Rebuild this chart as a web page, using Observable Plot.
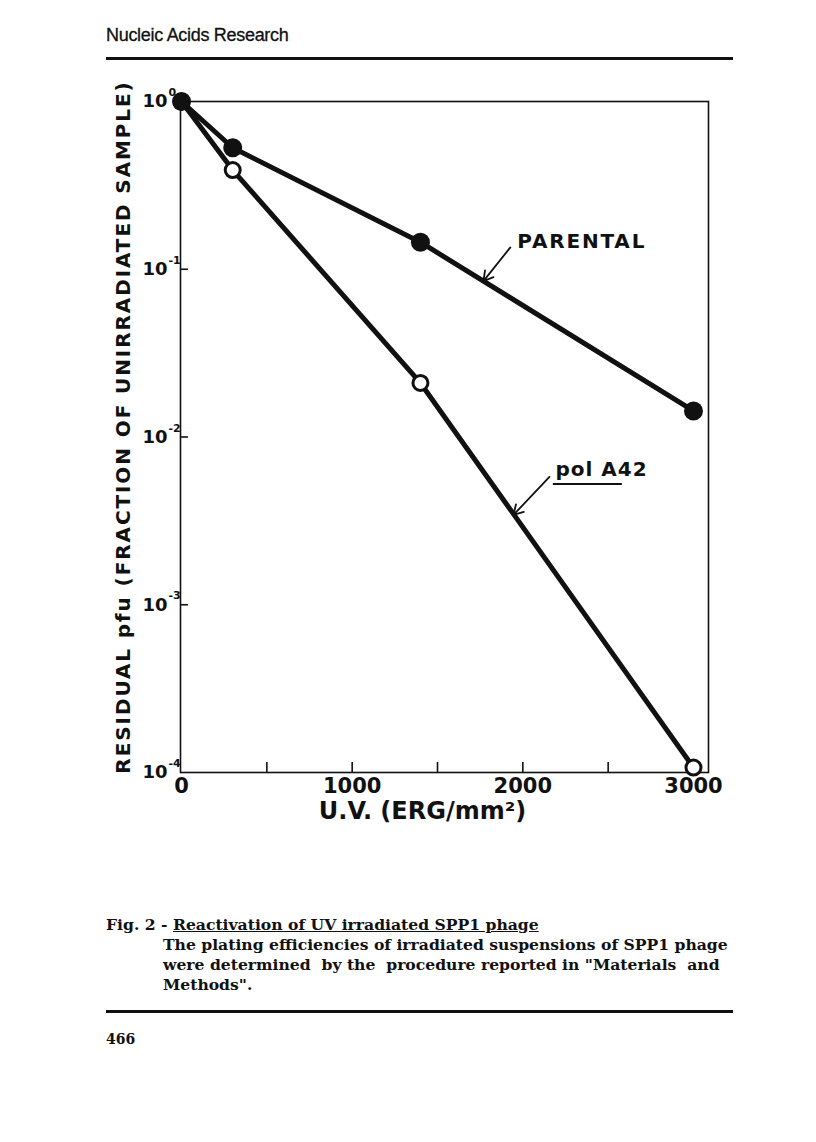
<!DOCTYPE html>
<html>
<head>
<meta charset="utf-8">
<script src="https://cdn.jsdelivr.net/npm/d3@7"></script>
<script src="https://cdn.jsdelivr.net/npm/@observablehq/plot@0.6"></script>
<style>
  html, body { margin: 0; padding: 0; background: #fff; }
  #page { position: relative; width: 816px; height: 1142px; background: #fff; overflow: hidden; }
  #chart { position: absolute; left: 0; top: 0; }
  .hdr { position: absolute; left: 106px; top: 25px; font-family: "Liberation Sans", Arial, sans-serif; font-size: 18px; font-weight: 500; color: #111; letter-spacing: -0.3px; -webkit-text-stroke: 0.3px #111; }
  .rule { position: absolute; left: 106px; width: 627px; height: 3px; background: #111; }
  .cap { position: absolute; font-family: "DejaVu Serif", serif; font-weight: bold; font-size: 15.6px; color: #111; white-space: nowrap; }
  .u { text-decoration: underline; }
</style>
</head>
<body>
<div id="page">
  <div class="hdr">Nucleic Acids Research</div>
  <div class="rule" style="top:57px"></div>
  <div id="chart"></div>
  <div class="cap" style="left:106px; top:915px;">Fig. 2 - <span class="u">Reactivation of UV irradiated SPP1 phage</span></div>
  <div class="cap" style="left:163px; top:935px;">The plating efficiencies of irradiated suspensions of SPP1 phage</div>
  <div class="cap" style="left:163px; top:955px;">were determined &nbsp;by the &nbsp;procedure reported in "Materials &nbsp;and</div>
  <div class="cap" style="left:163px; top:975px;">Methods".</div>
  <div class="rule" style="top:1010px; height:2.5px"></div>
  <div class="cap" style="left:106px; top:1031px; font-size:14px;">466</div>
</div>
<script>
// Data
const doses = [0, 300, 1400, 3000];
const parental = [1.0, 0.53, 0.145, 0.0143];
const polA42 = [1.0, 0.39, 0.021, 0.000107];

const yTicks = [1, 0.1, 0.01, 0.001, 0.0001];
const yTickBase = ["10", "10", "10", "10", "10"];
const yTickExp = ["0", "-1", "-2", "-3", "-4"];
const xLabelTicks = [0, 1000, 2000, 3000];
const xMinorTicks = [500, 1000, 1500, 2000, 2500];

const yLabel = "RESIDUAL pfu (FRACTION OF UNIRRADIATED SAMPLE)";
const xLabel = "U.V. (ERG/mm²)";

const annotText = ["PARENTAL", "pol A42"];
const annotX = [1968, 2191];
const annotY = [0.147, 0.0064];
const arrowX1 = [1927, 2156];
const arrowY1 = [0.135, 0.00578];
const arrowX2 = [1769, 1945];
const arrowY2 = [0.085, 0.00343];
const underlineX = [2179, 2583];
const underlineY = [0.00525];

const parentalRows = doses.map((x, i) => ({x, y: parental[i], series: "PARENTAL"}));
const polRows = doses.map((x, i) => ({x, y: polA42[i], series: "pol A42"}));
const annots = annotText.map((t, i) => ({text: t, x: annotX[i], y: annotY[i]}));
const arrows = arrowX1.map((x1, i) => ({x1, y1: arrowY1[i], x2: arrowX2[i], y2: arrowY2[i]}));
const underline = [{x1: underlineX[0], x2: underlineX[1], y: underlineY[0]}];
const expRows = yTicks.map((y, i) => ({y, text: yTickExp[i]}));

const chart = Plot.plot({
  width: 816,
  height: 860,
  marginLeft: 180,
  marginRight: 108,
  marginTop: 101,
  marginBottom: 88,
  style: {fontFamily: "'DejaVu Sans', sans-serif", fontWeight: "bold", background: "transparent", color: "#111"},
  x: {domain: [-6, 3088]},
  y: {type: "log", domain: [1e-4, 1]},
  marks: [
    Plot.frame({stroke: "#111", strokeWidth: 1.6}),
    Plot.axisY({ticks: yTicks.slice(1, 4), tickSize: -8, tickFormat: () => "", label: null, strokeWidth: 1.6}),
    Plot.axisY({ticks: yTicks, tickSize: 0, tickPadding: 13, tickFormat: (d) => yTickBase[yTicks.indexOf(d)], fontSize: 18, label: null}),
    Plot.text(expRows, {y: "y", text: "text", frameAnchor: "left", dx: -12, dy: -9, textAnchor: "start", fontSize: 11, fontWeight: "bold"}),
    Plot.axisX({ticks: xMinorTicks, tickSize: -10, tickFormat: () => "", label: null, strokeWidth: 1.6}),
    Plot.axisX({ticks: xLabelTicks, tickSize: 0, tickPadding: 6, fontSize: 21, tickFormat: d => String(d), label: null}),
    Plot.text([yLabel], {frameAnchor: "left", rotate: -90, dx: -57, dy: -10, textAnchor: "middle", fontSize: 20, fontWeight: "bold"}),
    Plot.text([xLabel], {frameAnchor: "bottom", dx: -22, dy: 46, textAnchor: "middle", fontSize: 24, fontWeight: "bold"}),
    Plot.line(parentalRows, {x: "x", y: "y", stroke: "#111", strokeWidth: 5}),
    Plot.line(polRows, {x: "x", y: "y", stroke: "#111", strokeWidth: 5}),
    Plot.dot(polRows, {x: "x", y: "y", r: 7.5, fill: "white", stroke: "#111", strokeWidth: 3}),
    Plot.dot(parentalRows, {x: "x", y: "y", r: 9.5, fill: "#111"}),
    Plot.arrow(arrows, {x1: "x1", y1: "y1", x2: "x2", y2: "y2", stroke: "#111", strokeWidth: 1.8, headLength: 9}),
    Plot.text(annots, {x: "x", y: "y", text: "text", textAnchor: "start", fontSize: 20, fontWeight: "bold"}),
    Plot.ruleY(underline, {x1: "x1", x2: "x2", y: "y", stroke: "#111", strokeWidth: 2})
  ]
});
document.getElementById("chart").appendChild(chart);
d3.select(chart).selectAll("text").filter(function() { return this.textContent === yLabel; }).style("letter-spacing", "1.9px");
d3.select(chart).selectAll("text").filter(function() { return this.textContent === "PARENTAL"; }).style("letter-spacing", "1.8px");
d3.select(chart).selectAll("text").filter(function() { return this.textContent === "pol A42"; }).style("letter-spacing", "1px");
</script>
</body>
</html>
